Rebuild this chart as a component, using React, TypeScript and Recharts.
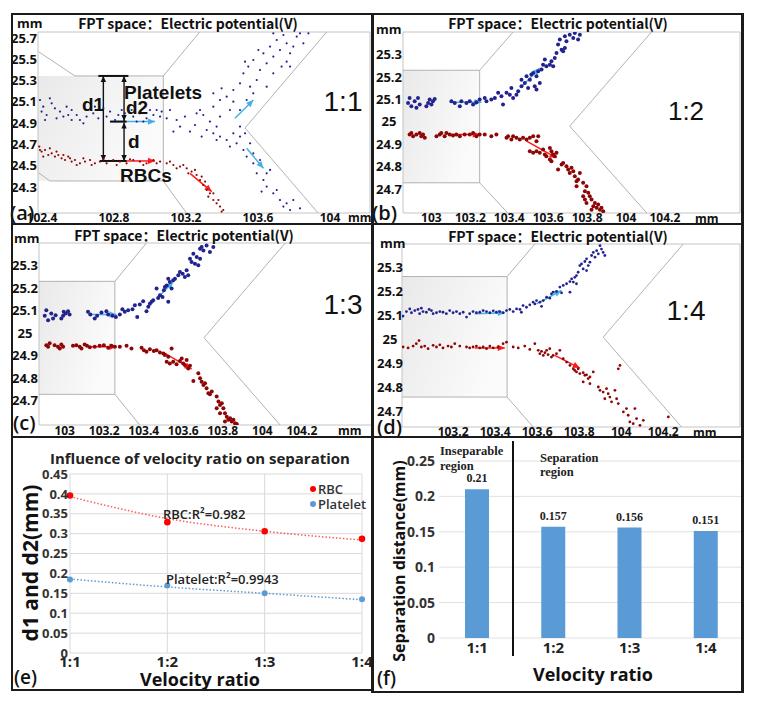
import React from "react";
import {
  ScatterChart, Scatter, XAxis, YAxis, ReferenceLine, ReferenceArea,
  LineChart, Line, BarChart, Bar, CartesianGrid, LabelList,
} from "recharts";

type P = [number, number];
type Seg = [number, number, number, number];

// ---------- (a) 1:1 particle positions (mm) ----------
const A_PLATELETS: P[] = [
  [102.389, 25.117], [102.407, 25.054], [102.426, 24.976], [102.454, 25.086], [102.472, 25.039],
  [102.5, 25.008], [102.519, 24.961], [102.537, 25.054], [102.565, 25.023], [102.593, 24.976],
  [102.611, 24.929], [102.63, 24.898], [102.657, 25.023], [102.685, 24.992], [102.713, 24.945],
  [102.741, 25.039], [102.778, 25.008], [102.806, 24.929], [102.824, 24.976], [102.861, 24.992],
  [102.907, 24.961], [102.944, 24.992], [102.981, 24.945], [103.019, 24.976], [103.056, 24.961],
  [103.037, 25.023], [102.417, 24.929], [102.481, 24.945], [102.565, 24.929], [102.648, 24.961],
  [102.898, 25.023], [102.963, 24.914], [102.398, 25.008], [102.444, 25.133], [102.546, 24.976],
  [102.694, 25.054], [102.759, 24.961], [102.843, 25.023], [102.926, 24.914], [103.0, 25.023],
  [103.065, 25.008],
  [103.093, 24.945], [103.111, 25.023], [103.148, 24.929], [103.167, 24.867], [103.194, 24.961],
  [103.222, 24.82], [103.25, 24.882], [103.278, 25.023], [103.296, 24.976], [103.315, 24.835],
  [103.333, 24.914], [103.352, 24.804], [103.37, 24.867], [103.389, 24.961], [103.37, 24.741],
  [103.13, 24.82], [103.259, 24.992], [103.287, 24.773],
  [103.352, 25.054], [103.389, 25.117], [103.426, 25.148], [103.463, 25.211], [103.444, 25.023],
  [103.5, 25.274], [103.519, 25.368], [103.546, 25.431], [103.574, 25.493], [103.593, 25.305],
  [103.611, 25.399], [103.63, 25.556], [103.648, 25.462], [103.667, 25.619], [103.685, 25.525],
  [103.704, 25.681], [103.722, 25.587], [103.741, 25.728], [103.759, 25.65], [103.778, 25.431],
  [103.796, 25.619], [103.815, 25.713], [103.833, 25.744], [103.852, 25.65], [103.88, 25.744],
  [103.574, 25.18], [103.537, 25.117], [103.5, 25.023], [103.463, 25.101], [103.556, 25.242],
  [103.685, 25.368], [103.648, 25.242], [103.528, 25.477], [103.352, 25.18], [103.398, 25.227],
  [103.759, 25.477], [103.731, 25.431], [103.602, 25.587], [103.685, 25.744], [103.778, 25.556],
  [103.389, 24.773], [103.426, 24.741], [103.463, 24.804], [103.481, 24.71], [103.5, 24.773],
  [103.519, 24.647], [103.537, 24.585], [103.556, 24.71], [103.574, 24.522], [103.593, 24.428],
  [103.611, 24.553], [103.63, 24.365], [103.648, 24.303], [103.667, 24.46], [103.685, 24.24],
  [103.704, 24.271], [103.722, 24.177], [103.741, 24.115], [103.759, 24.146], [103.778, 24.083],
  [103.796, 24.177], [103.833, 24.099], [103.5, 24.867], [103.574, 24.616], [103.528, 24.804],
  [103.444, 24.679], [103.648, 24.428], [103.62, 24.256],
];
const A_RBCS: P[] = [
  [102.385, 24.679], [102.398, 24.632], [102.417, 24.647], [102.435, 24.6], [102.454, 24.616],
  [102.472, 24.585], [102.491, 24.6], [102.509, 24.569], [102.528, 24.553], [102.546, 24.585],
  [102.565, 24.538], [102.583, 24.553], [102.611, 24.522], [102.639, 24.538], [102.667, 24.553],
  [102.694, 24.522], [102.722, 24.538], [102.759, 24.522], [102.796, 24.553], [102.833, 24.538],
  [102.87, 24.522], [102.907, 24.553], [102.944, 24.538], [102.981, 24.522], [103.019, 24.553],
  [103.056, 24.538], [103.093, 24.522], [103.13, 24.506], [103.167, 24.491], [103.204, 24.475],
  [103.231, 24.444], [103.259, 24.412], [103.278, 24.365], [103.296, 24.318], [103.315, 24.271],
  [103.333, 24.24], [103.352, 24.177], [103.37, 24.146], [103.389, 24.115], [103.407, 24.083],
  [102.407, 24.585], [102.444, 24.663], [102.481, 24.632], [102.519, 24.6], [102.556, 24.569],
  [102.593, 24.506], [102.63, 24.569], [102.676, 24.506], [102.741, 24.56], [102.815, 24.506],
  [102.889, 24.56], [102.963, 24.506], [103.037, 24.522], [103.111, 24.538], [103.148, 24.475],
  [103.185, 24.506], [103.213, 24.428], [103.25, 24.46], [103.287, 24.397], [103.306, 24.35],
  [103.324, 24.208], [103.352, 24.24], [103.38, 24.177], [103.398, 24.068], [102.389, 24.647],
];

// ---------- (b) 1:2 ----------
const B_PLATELETS: P[] = [
  [102.88, 25.084], [102.888, 25.106], [102.897, 25.069], [102.914, 25.092], [102.931, 25.106],
  [102.94, 25.077], [102.974, 25.069], [102.983, 25.084], [102.991, 25.099], [103.008, 25.092],
  [103.017, 25.102], [103.0, 25.077], [102.923, 25.062], [103.103, 25.092], [103.12, 25.084],
  [103.146, 25.069], [103.154, 25.092], [103.18, 25.084], [103.197, 25.092], [103.214, 25.077],
  [103.231, 25.087], [103.248, 25.099], [103.274, 25.106], [103.283, 25.092], [103.308, 25.099],
  [103.326, 25.106], [103.343, 25.129], [103.36, 25.114], [103.368, 25.077], [103.386, 25.129],
  [103.403, 25.121], [103.42, 25.106], [103.411, 25.151], [103.437, 25.121], [103.446, 25.136],
  [103.463, 25.159], [103.48, 25.173], [103.497, 25.151], [103.506, 25.188], [103.514, 25.211],
  [103.523, 25.218], [103.531, 25.159], [103.54, 25.144], [103.549, 25.226], [103.566, 25.233],
  [103.574, 25.255], [103.583, 25.278], [103.591, 25.248], [103.609, 25.255], [103.617, 25.27],
  [103.626, 25.248], [103.634, 25.285], [103.643, 25.307], [103.651, 25.345], [103.669, 25.322],
  [103.677, 25.315], [103.686, 25.33], [103.694, 25.36], [103.686, 25.382], [103.711, 25.389],
  [103.729, 25.374], [103.737, 25.397], [103.754, 25.367], [103.763, 25.389], [103.66, 25.367],
  [103.463, 25.188], [103.489, 25.203], [103.54, 25.203], [103.557, 25.173],
];
const B_RBCS: P[] = [
  [102.888, 24.943], [102.897, 24.95], [102.906, 24.935], [102.923, 24.943], [102.94, 24.95],
  [102.948, 24.935], [102.957, 24.943], [102.966, 24.928], [103.026, 24.935], [103.043, 24.943],
  [103.051, 24.95], [103.068, 24.935], [103.077, 24.95], [103.094, 24.943], [103.111, 24.938],
  [103.128, 24.943], [103.146, 24.935], [103.171, 24.943], [103.197, 24.943], [103.214, 24.95],
  [103.231, 24.935], [103.248, 24.943], [103.274, 24.943], [103.308, 24.935], [103.334, 24.943],
  [103.386, 24.928], [103.394, 24.935], [103.411, 24.92], [103.42, 24.935], [103.437, 24.928],
  [103.454, 24.92], [103.471, 24.928], [103.489, 24.92], [103.506, 24.928], [103.523, 24.935],
  [103.54, 24.913], [103.549, 24.935], [103.506, 24.868], [103.523, 24.861], [103.54, 24.868],
  [103.557, 24.861], [103.574, 24.876], [103.583, 24.853], [103.591, 24.846], [103.609, 24.883],
  [103.617, 24.868], [103.626, 24.853], [103.634, 24.846], [103.609, 24.831], [103.617, 24.823],
  [103.643, 24.861], [103.677, 24.816], [103.694, 24.801], [103.703, 24.786], [103.711, 24.771],
  [103.72, 24.794], [103.729, 24.779], [103.737, 24.756], [103.746, 24.734], [103.754, 24.742],
  [103.763, 24.771], [103.746, 24.712], [103.78, 24.727], [103.789, 24.689], [103.797, 24.712],
  [103.806, 24.682], [103.78, 24.667], [103.789, 24.652], [103.797, 24.637], [103.814, 24.667],
  [103.823, 24.652], [103.832, 24.622], [103.84, 24.637], [103.849, 24.615], [103.857, 24.63],
  [103.866, 24.607], [103.874, 24.615], [103.883, 24.6], [103.823, 24.607], [103.651, 24.786],
  [103.669, 24.809],
];

// ---------- (c) 1:3 ----------
const C_PLATELETS: P[] = [
  [102.907, 25.101], [102.899, 25.076], [102.916, 25.057], [102.941, 25.064], [102.954, 25.079],
  [102.983, 25.064], [102.992, 25.076], [103.005, 25.086], [103.017, 25.096], [103.025, 25.082],
  [102.932, 25.086], [102.995, 25.094], [103.118, 25.094], [103.13, 25.082], [103.152, 25.064],
  [103.164, 25.076], [103.186, 25.091], [103.211, 25.096], [103.22, 25.082], [103.242, 25.076],
  [103.259, 25.071], [103.279, 25.082], [103.292, 25.105], [103.304, 25.094], [103.321, 25.101],
  [103.343, 25.105], [103.355, 25.123], [103.367, 25.071], [103.38, 25.126], [103.397, 25.141],
  [103.414, 25.096], [103.423, 25.116], [103.431, 25.13], [103.44, 25.138], [103.448, 25.145],
  [103.465, 25.197], [103.473, 25.155], [103.482, 25.167], [103.495, 25.16], [103.502, 25.189],
  [103.507, 25.204], [103.516, 25.211], [103.524, 25.138], [103.532, 25.226], [103.541, 25.197],
  [103.549, 25.234], [103.558, 25.241], [103.575, 25.256], [103.583, 25.27], [103.597, 25.263],
  [103.608, 25.248], [103.617, 25.278], [103.625, 25.256], [103.634, 25.329], [103.651, 25.351],
  [103.659, 25.307], [103.668, 25.337], [103.685, 25.374], [103.676, 25.3], [103.693, 25.381],
  [103.702, 25.366], [103.718, 25.388], [103.735, 25.359], [103.752, 25.381], [103.642, 25.315],
  [103.685, 25.329], [103.524, 25.241],
];
const C_RBCS: P[] = [
  [102.907, 24.946], [102.916, 24.939], [102.924, 24.954], [102.949, 24.946], [102.966, 24.939],
  [102.975, 24.931], [102.983, 24.949], [102.992, 24.939], [103.042, 24.943], [103.059, 24.946],
  [103.076, 24.939], [103.085, 24.931], [103.101, 24.949], [103.113, 24.943], [103.127, 24.937],
  [103.152, 24.939], [103.177, 24.943], [103.198, 24.946], [103.22, 24.934], [103.237, 24.943],
  [103.254, 24.939], [103.279, 24.939], [103.313, 24.943], [103.338, 24.931], [103.389, 24.934],
  [103.401, 24.924], [103.414, 24.917], [103.431, 24.928], [103.451, 24.92], [103.465, 24.924],
  [103.482, 24.914], [103.499, 24.909], [103.507, 24.902], [103.524, 24.895], [103.541, 24.931],
  [103.516, 24.873], [103.532, 24.865], [103.549, 24.873], [103.566, 24.861], [103.583, 24.876],
  [103.592, 24.887], [103.6, 24.865], [103.608, 24.858], [103.617, 24.88], [103.625, 24.843],
  [103.634, 24.855], [103.651, 24.787], [103.676, 24.821], [103.685, 24.799], [103.693, 24.784],
  [103.702, 24.769], [103.71, 24.777], [103.718, 24.755], [103.727, 24.733], [103.735, 24.728],
  [103.744, 24.74], [103.769, 24.718], [103.778, 24.696], [103.786, 24.681], [103.795, 24.688],
  [103.769, 24.666], [103.803, 24.666], [103.811, 24.644], [103.786, 24.644], [103.82, 24.629],
  [103.828, 24.615], [103.837, 24.622], [103.845, 24.607], [103.854, 24.615], [103.862, 24.6],
  [103.871, 24.596], [103.811, 24.607],
];

// ---------- (d) 1:4 ----------
const D_PLATELETS: P[] = [
  [102.962, 25.096], [102.978, 25.115], [102.994, 25.126], [103.002, 25.11], [103.018, 25.119],
  [103.033, 25.124], [103.041, 25.106], [103.049, 25.129], [103.057, 25.115], [103.073, 25.112],
  [103.086, 25.124], [103.097, 25.119], [103.105, 25.106], [103.121, 25.11], [103.137, 25.115],
  [103.152, 25.112], [103.168, 25.106], [103.184, 25.119], [103.2, 25.11], [103.216, 25.115],
  [103.232, 25.106], [103.248, 25.112], [103.264, 25.092], [103.279, 25.106], [103.295, 25.115],
  [103.311, 25.11], [103.327, 25.112], [103.343, 25.119], [103.359, 25.115], [103.375, 25.11],
  [103.391, 25.118], [103.406, 25.112], [103.422, 25.115], [103.438, 25.11], [103.454, 25.119],
  [103.47, 25.124], [103.486, 25.115], [103.502, 25.126], [103.518, 25.124], [103.525, 25.112],
  [103.533, 25.14], [103.549, 25.133], [103.565, 25.143], [103.581, 25.154], [103.589, 25.147],
  [103.597, 25.161], [103.613, 25.154], [103.621, 25.137], [103.629, 25.161], [103.645, 25.175],
  [103.66, 25.171], [103.668, 25.189], [103.676, 25.196], [103.692, 25.199], [103.708, 25.217],
  [103.716, 25.193], [103.724, 25.224], [103.74, 25.231], [103.756, 25.24], [103.764, 25.251],
  [103.772, 25.238], [103.779, 25.258], [103.787, 25.265], [103.795, 25.279], [103.803, 25.307],
  [103.811, 25.314], [103.819, 25.293], [103.827, 25.324], [103.835, 25.335], [103.843, 25.307],
  [103.851, 25.321], [103.859, 25.349], [103.867, 25.362], [103.875, 25.342], [103.883, 25.369],
  [103.891, 25.356], [103.899, 25.39], [103.906, 25.376], [103.914, 25.362], [103.922, 25.349],
  [103.835, 25.286], [103.756, 25.196], [103.787, 25.231],
];
const D_RBCS: P[] = [
  [102.962, 24.967], [102.986, 24.963], [103.01, 24.971], [103.025, 24.981], [103.038, 24.994],
  [103.049, 24.967], [103.065, 24.971], [103.081, 24.96], [103.105, 24.974], [103.121, 24.967],
  [103.137, 24.976], [103.152, 24.963], [103.176, 24.971], [103.192, 24.967], [103.208, 24.981],
  [103.232, 24.971], [103.264, 24.967], [103.279, 24.963], [103.295, 24.967], [103.311, 24.971],
  [103.327, 24.963], [103.343, 24.967], [103.359, 24.96], [103.375, 24.971], [103.391, 24.963],
  [103.414, 24.967], [103.438, 24.981], [103.454, 24.987], [103.486, 24.967], [103.51, 24.963],
  [103.541, 24.971], [103.565, 24.957], [103.589, 24.981], [103.605, 24.953], [103.613, 24.939],
  [103.621, 24.949], [103.629, 24.932], [103.637, 24.943], [103.645, 24.953], [103.652, 24.935],
  [103.66, 24.96], [103.668, 24.925], [103.676, 24.932], [103.692, 24.939], [103.708, 24.953],
  [103.724, 24.918], [103.74, 24.904], [103.756, 24.89], [103.772, 24.876], [103.779, 24.869],
  [103.787, 24.863], [103.795, 24.876], [103.803, 24.856], [103.819, 24.86], [103.827, 24.849],
  [103.835, 24.851], [103.843, 24.835], [103.851, 24.842], [103.819, 24.821], [103.851, 24.814],
  [103.867, 24.863], [103.891, 24.8], [103.899, 24.786], [103.914, 24.779], [103.93, 24.793],
  [103.938, 24.772], [103.946, 24.758], [103.922, 24.751], [103.954, 24.738], [103.97, 24.786],
  [103.978, 24.751], [103.986, 24.731], [103.994, 24.89], [103.986, 24.876], [104.01, 24.696],
  [104.025, 24.71], [104.033, 24.682], [104.041, 24.654], [104.057, 24.647], [104.073, 24.668],
  [104.089, 24.64], [104.105, 24.661], [104.224, 24.675], [104.065, 24.71],
];

// ---------- channel outlines and flow arrows (mm) ----------
const A_WALLS: Seg[] = [
  [102.38, 25.572, 102.583, 25.343], [102.583, 25.343, 103.074, 25.343], [103.074, 25.343, 103.278, 25.76],
  [103.074, 25.343, 103.074, 24.356], [102.38, 24.434, 102.444, 24.356], [102.444, 24.356, 103.074, 24.356],
  [103.074, 24.356, 103.226, 24.0], [103.983, 25.76, 103.528, 24.854], [103.528, 24.854, 103.962, 24.0],
];
const B_WALLS: Seg[] = [
  [102.854, 25.23, 103.248, 25.23], [103.248, 25.23, 103.248, 24.727], [102.854, 24.727, 103.248, 24.727],
  [103.248, 25.23, 103.42, 25.401], [103.248, 24.727, 103.4, 24.585],
  [104.131, 25.401, 103.711, 24.98], [103.711, 24.98, 104.106, 24.593],
];
const C_WALLS: Seg[] = [
  [102.87, 25.229, 103.254, 25.229], [103.254, 25.229, 103.254, 24.728], [102.87, 24.728, 103.254, 24.728],
  [103.254, 25.229, 103.414, 25.399], [103.254, 24.728, 103.38, 24.592],
  [104.116, 25.399, 103.705, 24.979], [103.705, 24.979, 104.09, 24.592],
];
const D_WALLS: Seg[] = [
  [102.957, 25.261, 103.457, 25.261], [103.457, 25.261, 103.457, 24.758], [102.957, 24.758, 103.457, 24.758],
  [103.457, 25.261, 103.589, 25.397], [103.457, 24.758, 103.581, 24.633],
  [104.295, 25.397, 103.914, 25.008], [103.914, 25.008, 104.287, 24.633],
];
const A_BLUE_ARROWS: Seg[] = [[102.787, 24.914, 103.028, 24.914], [103.472, 24.945, 103.574, 25.117], [103.537, 24.663, 103.63, 24.475]];
const A_RED_ARROWS: Seg[] = [[102.861, 24.544, 103.028, 24.544], [103.222, 24.428, 103.343, 24.256]];
const A_DIM_ARROWS: Seg[] = [[102.741, 25.343, 102.741, 24.544], [102.856, 25.343, 102.856, 24.92], [102.856, 24.905, 102.856, 24.544]];
const A_DIM_CAPS: Seg[] = [[102.713, 25.343, 102.88, 25.343], [102.722, 24.544, 102.87, 24.544], [102.778, 24.914, 102.87, 24.914]];
const B_BLUE_ARROWS: Seg[] = [[103.094, 25.087, 103.257, 25.087], [103.463, 25.156, 103.557, 25.24]];
const B_RED_ARROWS: Seg[] = [[103.085, 24.943, 103.248, 24.943], [103.489, 24.913, 103.643, 24.838]];
const C_BLUE_ARROWS: Seg[] = [[103.118, 25.082, 103.262, 25.082], [103.465, 25.152, 103.549, 25.226]];
const C_RED_ARROWS: Seg[] = [[103.127, 24.939, 103.262, 24.939], [103.499, 24.914, 103.642, 24.84]];
const D_BLUE_ARROWS: Seg[] = [[103.303, 25.106, 103.446, 25.11], [103.597, 25.147, 103.716, 25.203]];
const D_RED_ARROWS: Seg[] = [[103.303, 24.963, 103.446, 24.963], [103.684, 24.932, 103.803, 24.879]];

const A_X_TICKS = [102.4, 102.8, 103.2, 103.6, 104];
const A_Y_TICKS = [24.3, 24.5, 24.7, 24.9, 25.1, 25.3, 25.5, 25.7];
const BC_X_TICKS = [103, 103.2, 103.4, 103.6, 103.8, 104, 104.2];
const D_X_TICKS = [103.2, 103.4, 103.6, 103.8, 104, 104.2];
const BCD_Y_TICKS = [24.7, 24.8, 24.9, 25, 25.1, 25.2, 25.3];

// ---------- (e) and (f) ----------
const RATIOS = ["1:1", "1:2", "1:3", "1:4"];
const RBC_D1 = [0.396, 0.329, 0.306, 0.287];
const PLATELET_D2 = [0.185, 0.17, 0.15, 0.135];
const RBC_FIT = [0.393, 0.338, 0.306, 0.284];
const PLATELET_FIT = [0.186, 0.166, 0.15, 0.134];
const E_Y_TICKS = [0, 0.05, 0.1, 0.15, 0.2, 0.25, 0.3, 0.35, 0.4, 0.45];
const SEPARATION = [0.21, 0.157, 0.156, 0.151];
const F_Y_TICKS = [0, 0.05, 0.1, 0.15, 0.2, 0.25];

const SANS = "'Open Sans', 'Noto Sans', sans-serif";
const CJK = "'Noto Sans CJK SC', 'Open Sans', sans-serif";
const ARIAL = "'Liberation Sans', Arial, sans-serif";
const SERIF = "'Liberation Serif', 'Times New Roman', serif";
const BLUE = "#23238f";
const RED = "#8e0606";
const LIGHT_BLUE = "#45b0e6";
const ARROW_RED = "#ff1a1a";

const toXY = (arr: P[]) => arr.map(([x, y]) => ({ x, y }));
const dot = (r: number, fill: string) => (p: any) => <circle cx={p.cx} cy={p.cy} r={r} fill={fill} />;

function arrowShape(color: string, both: boolean, head: number, width = 1.5) {
  return (p: any) => {
    const { x1, y1, x2, y2 } = p;
    const a = Math.atan2(y2 - y1, x2 - x1);
    const tip = (x: number, y: number, ang: number) => {
      const w = head * 0.45;
      const bx = x - head * Math.cos(ang);
      const by = y - head * Math.sin(ang);
      return `${x},${y} ${bx + w * Math.sin(ang)},${by - w * Math.cos(ang)} ${bx - w * Math.sin(ang)},${by + w * Math.cos(ang)}`;
    };
    return (
      <g>
        <line x1={x1} y1={y1} x2={x2} y2={y2} stroke={color} strokeWidth={width} />
        <polygon points={tip(x2, y2, a)} fill={color} />
        {both && <polygon points={tip(x1, y1, a + Math.PI)} fill={color} />}
      </g>
    );
  };
}

type TxtProps = {
  x: number; y: number; size: number; children: React.ReactNode;
  weight?: number; font?: string; align?: "left" | "center"; rotate?: boolean; color?: string;
};
function Txt({ x, y, size, children, weight = 700, font = SANS, align = "left", rotate = false, color = "#111" }: TxtProps) {
  const tx = align === "center" ? "-50%" : "0";
  return (
    <div style={{
      position: "absolute", left: x, top: y, fontSize: size, fontWeight: weight, fontFamily: font,
      color, lineHeight: 1, whiteSpace: "nowrap",
      transform: `translate(${tx}, -50%)${rotate ? " rotate(-90deg)" : ""}`,
    }}>{children}</div>
  );
}

type FlowCfg = {
  id: string; left: number; top: number; width: number; height: number;
  mTop: number; mRight: number; yW: number; xH: number;
  xDom: [number, number]; yDom: [number, number]; xTicks: number[]; yTicks: number[];
  inlet: Seg; walls: Seg[]; platelets: P[]; rbcs: P[];
  blueArrows: Seg[]; redArrows: Seg[]; r: number;
  yLabelDx: number; yAnchor: "end" | "middle"; xLabelDy: number;
};

function FlowPanel({ c, children }: { c: FlowCfg; children?: React.ReactNode }) {
  const yTick = (p: any) => (
    <text x={p.x - c.yLabelDx} y={p.y} dy="0.36em" textAnchor={c.yAnchor} fontFamily={SANS}
      fontWeight={700} fontSize={13} fill="#111">{String(p.payload.value)}</text>
  );
  const xTick = (p: any) => (
    <text x={p.x} y={p.y + c.xLabelDy} dy="0.36em" textAnchor="middle" fontFamily={SANS}
      fontWeight={700} fontSize={12} fill="#111">{String(p.payload.value)}</text>
  );
  return (
    <div style={{ position: "absolute", left: c.left, top: c.top }}>
      <ScatterChart width={c.width} height={c.height} margin={{ top: c.mTop, right: c.mRight, bottom: 0, left: 0 }}>
        <defs>
          <linearGradient id={c.id} x1="0" y1="0" x2="1" y2="0.4">
            <stop offset="0%" stopColor="#e9e9e9" />
            <stop offset="100%" stopColor="#fbfbfb" />
          </linearGradient>
        </defs>
        <XAxis type="number" dataKey="x" domain={c.xDom} ticks={c.xTicks} allowDataOverflow interval={0}
          axisLine={false} tickLine={false} tickSize={0} tickMargin={0} height={c.xH} tick={xTick} />
        <YAxis type="number" dataKey="y" domain={c.yDom} ticks={c.yTicks} allowDataOverflow interval={0}
          axisLine={false} tickLine={false} tickSize={0} tickMargin={0} width={c.yW} tick={yTick} />
        <ReferenceArea x1={c.inlet[0]} x2={c.inlet[1]} y1={c.inlet[2]} y2={c.inlet[3]}
          fill={`url(#${c.id})`} fillOpacity={1} stroke="none" ifOverflow="hidden" />
        <ReferenceArea x1={c.xDom[0]} x2={c.xDom[1]} y1={c.yDom[0]} y2={c.yDom[1]}
          fill="none" fillOpacity={0} stroke="#c4c4c4" strokeWidth={1} ifOverflow="visible" />
        {c.walls.map((w, i) => (
          <ReferenceLine key={"w" + i} segment={[{ x: w[0], y: w[1] }, { x: w[2], y: w[3] }]}
            stroke="#b2b2b2" strokeWidth={1} ifOverflow="hidden" />
        ))}
        <Scatter data={toXY(c.platelets)} shape={dot(c.r, BLUE)} isAnimationActive={false} />
        <Scatter data={toXY(c.rbcs)} shape={dot(c.r, RED)} isAnimationActive={false} />
        {c.blueArrows.map((s, i) => (
          <ReferenceLine key={"ba" + i} segment={[{ x: s[0], y: s[1] }, { x: s[2], y: s[3] }]}
            ifOverflow="visible" shape={arrowShape(LIGHT_BLUE, false, 7)} />
        ))}
        {c.redArrows.map((s, i) => (
          <ReferenceLine key={"ra" + i} segment={[{ x: s[0], y: s[1] }, { x: s[2], y: s[3] }]}
            ifOverflow="visible" shape={arrowShape(ARROW_RED, false, 7)} />
        ))}
        {children}
      </ScatterChart>
    </div>
  );
}

const PANEL_A: FlowCfg = {
  id: "gA", left: 12, top: 14, width: 361, height: 210, mTop: 18, mRight: 3, yW: 26, xH: 11,
  xDom: [102.378, 104.222], yDom: [24.055, 25.756], xTicks: A_X_TICKS, yTicks: A_Y_TICKS,
  inlet: [102.378, 103.074, 24.356, 25.343], walls: A_WALLS, platelets: A_PLATELETS, rbcs: A_RBCS,
  blueArrows: A_BLUE_ARROWS, redArrows: A_RED_ARROWS, r: 1.1, yLabelDx: 1, yAnchor: "end", xLabelDy: 5,
};
const PANEL_B: FlowCfg = {
  id: "gB", left: 373, top: 14, width: 371, height: 210, mTop: 18, mRight: 4, yW: 30, xH: 11,
  xDom: [102.854, 104.586], yDom: [24.592, 25.401], xTicks: BC_X_TICKS, yTicks: BCD_Y_TICKS,
  inlet: [102.854, 103.248, 24.727, 25.23], walls: B_WALLS, platelets: B_PLATELETS, rbcs: B_RBCS,
  blueArrows: B_BLUE_ARROWS, redArrows: B_RED_ARROWS, r: 2, yLabelDx: 14, yAnchor: "middle", xLabelDy: 5,
};
const PANEL_C: FlowCfg = {
  id: "gC", left: 12, top: 224, width: 361, height: 213, mTop: 19, mRight: 1, yW: 27, xH: 12,
  xDom: [102.87, 104.555], yDom: [24.592, 25.399], xTicks: BC_X_TICKS, yTicks: BCD_Y_TICKS,
  inlet: [102.87, 103.254, 24.728, 25.229], walls: C_WALLS, platelets: C_PLATELETS, rbcs: C_RBCS,
  blueArrows: C_BLUE_ARROWS, redArrows: C_RED_ARROWS, r: 2, yLabelDx: 14, yAnchor: "middle", xLabelDy: 6,
};
const PANEL_D: FlowCfg = {
  id: "gD", left: 373, top: 224, width: 371, height: 213, mTop: 20, mRight: 4, yW: 29, xH: 10,
  xDom: [102.957, 104.565], yDom: [24.633, 25.397], xTicks: D_X_TICKS, yTicks: BCD_Y_TICKS,
  inlet: [102.957, 103.457, 24.758, 25.261], walls: D_WALLS, platelets: D_PLATELETS, rbcs: D_RBCS,
  blueArrows: D_BLUE_ARROWS, redArrows: D_RED_ARROWS, r: 1.4, yLabelDx: 12, yAnchor: "middle", xLabelDy: 5,
};

const TITLE = "FPT space：Electric potential(V)";

function Frames() {
  const bar = (l: number, t: number, w: number, h: number) => (
    <div style={{ position: "absolute", left: l, top: t, width: w, height: h, background: "#1b1b1b" }} />
  );
  return (
    <div style={{ position: "absolute", left: 0, top: 0, zIndex: 5 }}>
      {bar(11, 13, 733, 2)}
      {bar(11, 13, 2, 678)}
      {bar(741, 13, 3, 680)}
      {bar(371, 13, 3, 680)}
      {bar(11, 223, 733, 2)}
      {bar(11, 436, 733, 2)}
      {bar(11, 689, 362, 2)}
      {bar(371, 691, 373, 2)}
    </div>
  );
}

export default function App() {
  const eData = RATIOS.map((r, i) => ({
    ratio: r, rbc: RBC_D1[i], platelet: PLATELET_D2[i], rbcFit: RBC_FIT[i], plateletFit: PLATELET_FIT[i],
  }));
  const fData = RATIOS.map((r, i) => ({ ratio: r, sep: SEPARATION[i] }));
  const eTickStyle = { fontFamily: SANS, fontWeight: 700, fontSize: 13, fill: "#333" };

  return (
    <div style={{ position: "absolute", left: 0, top: 0, width: 758, height: 702, background: "#fff", overflow: "hidden" }}>
      <FlowPanel c={PANEL_A}>
        {A_DIM_ARROWS.map((s, i) => (
          <ReferenceLine key={"da" + i} segment={[{ x: s[0], y: s[1] }, { x: s[2], y: s[3] }]}
            ifOverflow="visible" shape={arrowShape("#111", true, 6, 1.4)} />
        ))}
        {A_DIM_CAPS.map((s, i) => (
          <ReferenceLine key={"dc" + i} segment={[{ x: s[0], y: s[1] }, { x: s[2], y: s[3] }]}
            ifOverflow="visible" stroke="#111" strokeWidth={2} />
        ))}
      </FlowPanel>
      <FlowPanel c={PANEL_B} />
      <FlowPanel c={PANEL_C} />
      <FlowPanel c={PANEL_D} />

      {/* panel texts a-d */}
      <Txt x={188} y={23} size={14} font={CJK} align="center">{TITLE}</Txt>
      <Txt x={558} y={23} size={14} font={CJK} align="center">{TITLE}</Txt>
      <Txt x={184} y={235} size={14} font={CJK} align="center">{TITLE}</Txt>
      <Txt x={558} y={236} size={14} font={CJK} align="center">{TITLE}</Txt>
      <Txt x={17} y={23} size={13}>mm</Txt>
      <Txt x={376} y={29} size={13}>mm</Txt>
      <Txt x={14} y={238} size={13}>mm</Txt>
      <Txt x={380} y={243} size={13}>mm</Txt>
      <Txt x={348} y={218} size={12}>mm</Txt>
      <Txt x={695} y={219} size={12}>mm</Txt>
      <Txt x={338} y={431} size={12}>mm</Txt>
      <Txt x={693} y={433} size={12}>mm</Txt>
      <Txt x={343} y={102} size={28} weight={400} font={ARIAL} align="center">1:1</Txt>
      <Txt x={686} y={111} size={26} weight={400} font={ARIAL} align="center">1:2</Txt>
      <Txt x={343} y={305} size={28} weight={400} font={ARIAL} align="center">1:3</Txt>
      <Txt x={686} y={311} size={28} weight={400} font={ARIAL} align="center">1:4</Txt>
      <Txt x={10} y={213} size={20} weight={600}>(a)</Txt>
      <Txt x={372} y={213} size={20} weight={600}>(b)</Txt>
      <Txt x={13} y={423} size={20} weight={600}>(c)</Txt>
      <Txt x={377} y={427} size={20} weight={600}>(d)</Txt>
      <Txt x={82} y={104} size={19} font={ARIAL}>d1</Txt>
      <Txt x={124} y={92} size={19} font={ARIAL}>Platelets</Txt>
      <Txt x={126} y={107} size={19} font={ARIAL}>d2</Txt>
      <Txt x={128} y={141} size={19} font={ARIAL}>d</Txt>
      <Txt x={120} y={175} size={19} font={ARIAL}>RBCs</Txt>

      {/* (e) */}
      <div style={{ position: "absolute", left: 12, top: 437 }}>
        <LineChart width={361} height={253} data={eData} margin={{ top: 37, right: 11, bottom: 0, left: 0 }}>
          <CartesianGrid stroke="#dadada" />
          <XAxis dataKey="ratio" interval={0} tickLine={false} axisLine={false} tickSize={0} tickMargin={3}
            height={37} tick={{ fontFamily: SANS, fontWeight: 700, fontSize: 15, fill: "#222" }} />
          <YAxis type="number" domain={[0, 0.45]} ticks={E_Y_TICKS} interval={0} tickLine={false} axisLine={false}
            tickSize={0} tickMargin={2} width={58} tick={eTickStyle} />
          <Line dataKey="rbcFit" type="monotone" stroke="#ff5a5a" strokeWidth={1.5} strokeDasharray="1.5 2"
            dot={false} isAnimationActive={false} />
          <Line dataKey="plateletFit" type="monotone" stroke="#5b9bd5" strokeWidth={1.5} strokeDasharray="1.5 2"
            dot={false} isAnimationActive={false} />
          <Line dataKey="rbc" stroke="none" dot={{ r: 3.3, fill: "#ff0000", stroke: "none" }} isAnimationActive={false} />
          <Line dataKey="platelet" stroke="none" dot={{ r: 3, fill: "#5b9bd5", stroke: "none" }} isAnimationActive={false} />
        </LineChart>
      </div>
      <Txt x={200} y={458} size={15} align="center" color="#222">Influence of velocity ratio on separation</Txt>
      <Txt x={30} y={563} size={21} align="center" rotate>d1 and d2(mm)</Txt>
      <Txt x={200} y={679} size={18} align="center">Velocity ratio</Txt>
      <Txt x={14} y={677} size={19} weight={600}>(e)</Txt>
      <div style={{ position: "absolute", left: 310, top: 486, width: 6, height: 6, borderRadius: 3, background: "#ff0000" }} />
      <div style={{ position: "absolute", left: 310, top: 501, width: 6, height: 6, borderRadius: 3, background: "#5b9bd5" }} />
      <Txt x={318} y={489} size={13} weight={600} color="#333">RBC</Txt>
      <Txt x={318} y={504} size={13} weight={600} color="#333">Platelet</Txt>
      <Txt x={163} y={514} size={13} weight={600} color="#222">RBC:R²=0.982</Txt>
      <Txt x={166} y={579} size={13} weight={600} color="#222">Platelet:R²=0.9943</Txt>

      {/* (f) */}
      <div style={{ position: "absolute", left: 373, top: 437 }}>
        <BarChart width={371} height={255} data={fData} margin={{ top: 24, right: 0, bottom: 0, left: 0 }}>
          <CartesianGrid vertical={false} stroke="#e2e2e2" />
          <XAxis dataKey="ratio" interval={0} tickLine={false} axisLine={false} tickSize={0} tickMargin={4}
            height={54} tick={{ fontFamily: SANS, fontWeight: 700, fontSize: 15, fill: "#222" }} />
          <YAxis type="number" domain={[0, 0.25]} ticks={F_Y_TICKS} interval={0} tickLine={false} axisLine={false}
            tickSize={0} tickMargin={4} width={66} tick={{ fontFamily: SANS, fontWeight: 700, fontSize: 14, fill: "#333" }} />
          <Bar dataKey="sep" fill="#5b9bd5" barSize={24} isAnimationActive={false}>
            <LabelList dataKey="sep" position="top" offset={7}
              style={{ fontFamily: SERIF, fontWeight: 700, fontSize: 12, fill: "#222" }} />
          </Bar>
        </BarChart>
      </div>
      <div style={{ position: "absolute", left: 512, top: 441, width: 2, height: 215, background: "#111" }} />
      <Txt x={440} y={451} size={12.5} font={SERIF} color="#222">Inseparable</Txt>
      <Txt x={440} y={466} size={12.5} font={SERIF} color="#222">region</Txt>
      <Txt x={540} y={458} size={12.5} font={SERIF} color="#222">Separation</Txt>
      <Txt x={540} y={472} size={12.5} font={SERIF} color="#222">region</Txt>
      <Txt x={399} y={561} size={16} align="center" rotate>Separation distance(mm)</Txt>
      <Txt x={593} y={674} size={18} align="center">Velocity ratio</Txt>
      <Txt x={377} y={678} size={19} weight={600}>(f)</Txt>

      <Frames />
    </div>
  );
}
